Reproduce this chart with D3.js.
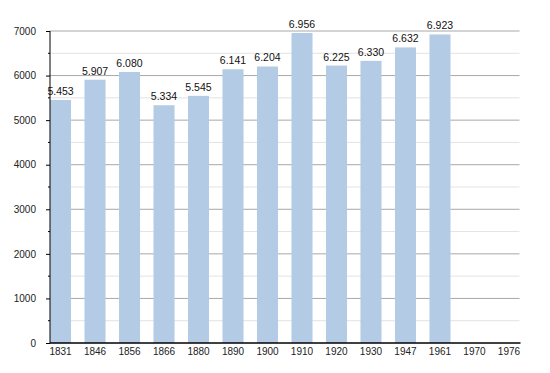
<!DOCTYPE html>
<html>
<head>
<meta charset="utf-8">
<script src="https://cdn.jsdelivr.net/npm/d3@7"></script>
<style>
  body { margin: 0; background: #fff; }
  text { font-family: "Liberation Sans", Arial, sans-serif; }
</style>
</head>
<body>
<div id="chart"></div>
<script>
const width = 550;
const height = 373;

const years = ['1831', '1846', '1856', '1866', '1880', '1890', '1900', '1910', '1920', '1930', '1947', '1961', '1970', '1976'];
const population = [5453, 5907, 6080, 5334, 5545, 6141, 6204, 6956, 6225, 6330, 6632, 6923, null, null];
const majorTicks = [0, 1000, 2000, 3000, 4000, 5000, 6000, 7000];
const minorTicks = [500, 1500, 2500, 3500, 4500, 5500, 6500];

const plotLeft = 50, plotRight = 519.5, plotTop = 31, plotBottom = 343;

const svg = d3.select('#chart').append('svg')
    .attr('width', width)
    .attr('height', height);

const x = d3.scaleBand()
    .domain(years)
    .range([plotLeft, plotRight])
    .paddingInner(0.39)
    .paddingOuter(0);

const y = d3.scaleLinear()
    .domain([0, 7000])
    .range([plotBottom, plotTop]);

// grid
svg.append('g')
    .selectAll('line')
    .data(minorTicks)
    .join('line')
    .attr('x1', plotLeft).attr('x2', plotRight)
    .attr('y1', d => y(d)).attr('y2', d => y(d))
    .attr('stroke', '#e3e3e3');

svg.append('g')
    .selectAll('line')
    .data(majorTicks.filter(d => d > 0))
    .join('line')
    .attr('x1', plotLeft).attr('x2', plotRight)
    .attr('y1', d => y(d)).attr('y2', d => y(d))
    .attr('stroke', '#a8a8a8');

const data = years.map((yr, i) => ({year: yr, value: population[i]})).filter(d => d.value != null);

svg.append('g')
    .selectAll('rect')
    .data(data)
    .join('rect')
    .attr('x', d => x(d.year))
    .attr('width', x.bandwidth())
    .attr('y', d => y(d.value))
    .attr('height', d => plotBottom - y(d.value))
    .attr('fill', '#b3cbe5');

const fmt = d3.formatLocale({decimal: ',', thousands: '.', grouping: [3], currency: ['', '']}).format(',d');

svg.append('g')
    .selectAll('text')
    .data(data)
    .join('text')
    .attr('x', d => x(d.year) + x.bandwidth() / 2)
    .attr('y', d => y(d.value) - 5)
    .attr('text-anchor', 'middle')
    .attr('font-size', '10.5px')
    .attr('fill', '#111')
    .text(d => fmt(d.value));

// y axis
const yAxis = svg.append('g')
    .attr('transform', `translate(${plotLeft},0)`)
    .call(d3.axisLeft(y).tickValues(majorTicks).tickSize(4).tickPadding(10).tickFormat(d3.format('d')));
yAxis.select('.domain').remove();
yAxis.selectAll('line').attr('stroke', '#000');
yAxis.selectAll('text').attr('font-size', '10px').attr('fill', '#222')
    .style('font-family', '"Liberation Sans", Arial, sans-serif');

svg.append('g')
    .selectAll('line')
    .data(minorTicks)
    .join('line')
    .attr('x1', plotLeft - 2).attr('x2', plotLeft)
    .attr('y1', d => y(d)).attr('y2', d => y(d))
    .attr('stroke', '#000');

svg.append('line')
    .attr('x1', plotLeft).attr('x2', plotLeft)
    .attr('y1', plotTop).attr('y2', plotBottom)
    .attr('stroke', '#000');

// x axis
const xAxis = svg.append('g')
    .attr('transform', `translate(0,${plotBottom})`)
    .call(d3.axisBottom(x).tickSize(0).tickPadding(5));
xAxis.select('.domain').remove();
xAxis.selectAll('text').attr('font-size', '10px').attr('fill', '#222')
    .style('font-family', '"Liberation Sans", Arial, sans-serif');

svg.append('line')
    .attr('x1', plotLeft).attr('x2', plotRight + 1)
    .attr('y1', plotBottom).attr('y2', plotBottom)
    .attr('stroke', '#000')
    .attr('stroke-width', 1.5);
</script>
</body>
</html>
